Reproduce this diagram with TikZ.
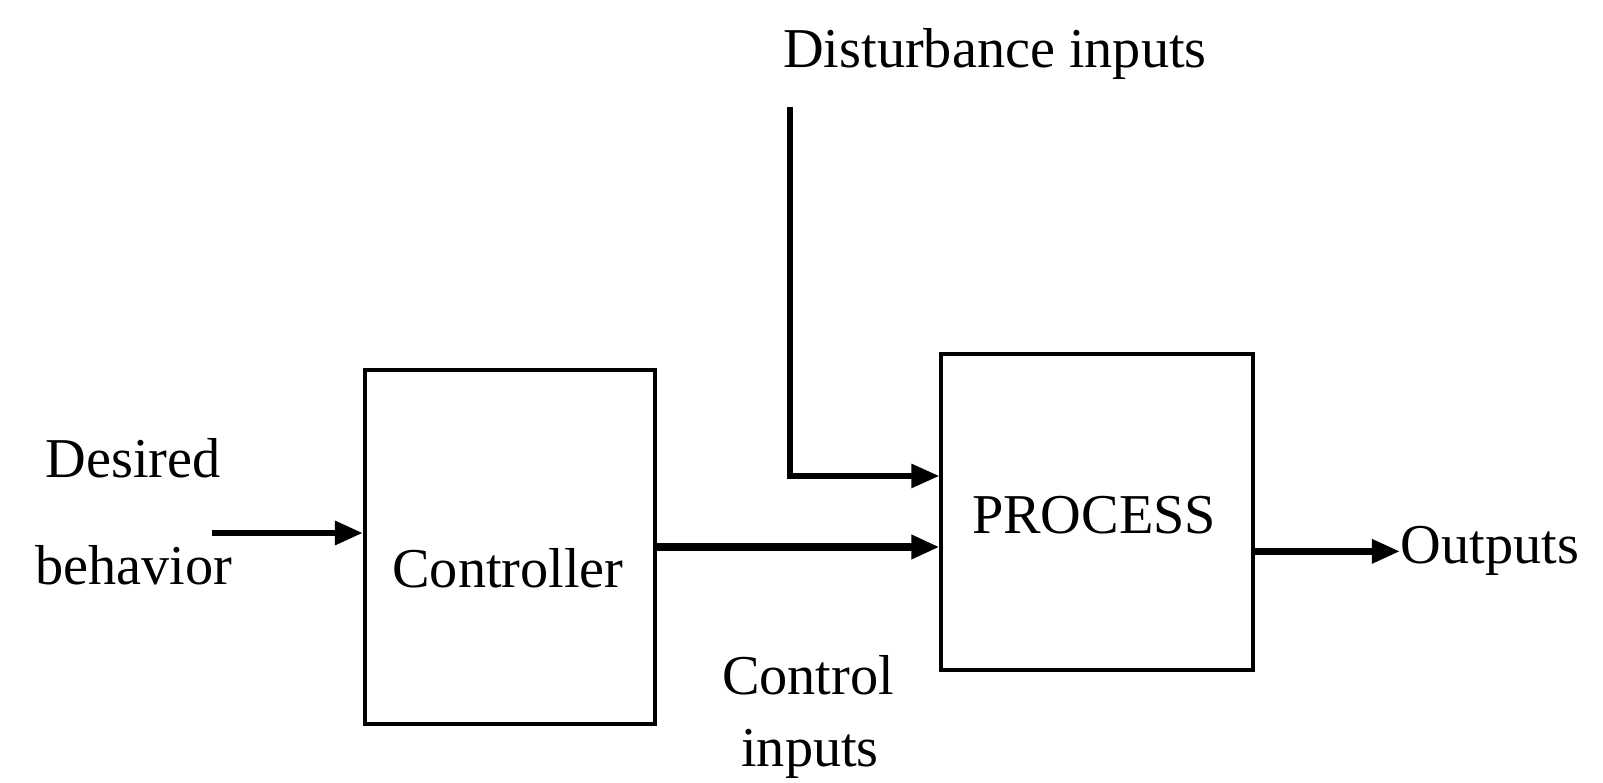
\documentclass[tikz,border=0pt]{standalone}
\usepackage{fontspec}
\setmainfont{Liberation Serif}
\usetikzlibrary{arrows.meta}

\begin{document}
\begin{tikzpicture}[x=0.01cm, y=-0.01cm,
  every node/.style={font=\fontsize{16}{19}\selectfont},
  blk/.style={draw, line width=1.1pt, inner sep=0pt},
  arr/.style={-{Triangle[length=8pt,width=6.5pt]}, line width=1.9pt}]
\useasboundingbox (0,0) rectangle (1603,783);
\node[blk, minimum width=2.9cm, minimum height=3.53cm] (ctrl) at (510,547) {};
\node[anchor=base] (ctrltxt) at (508,588) {Controller};
\node[blk, minimum width=3.11cm, minimum height=3.15cm] (proc) at (1097,512) {};
\node[anchor=base] (proctxt) at (1094,534) {PROCESS};
\node[anchor=base] (dist) at (995,68) {Disturbance inputs};
\node[anchor=base] (des) at (133,478) {Desired};
\node[anchor=base] (beh) at (134,585) {behavior};
\node[anchor=base] (cin) at (808,695) {Control};
\node[anchor=base] (cin2) at (810,767) {inputs};
\node[anchor=base west, inner sep=0pt] (out) at (1400,564) {Outputs};
\coordinate (din) at (212,533);
\coordinate (dtop) at (790,107);
\draw[arr] (din) -- (din -| ctrl.west);
\draw[arr, line width=2.4pt] (ctrl.east) -- (proc.west |- ctrl.east);
\draw[arr, line width=1.7pt] (dtop) |- ([yshift=0.36cm]proc.west);
\draw[arr] (proc.east |- out.west) -- (out.west);
\end{tikzpicture}
\end{document}
